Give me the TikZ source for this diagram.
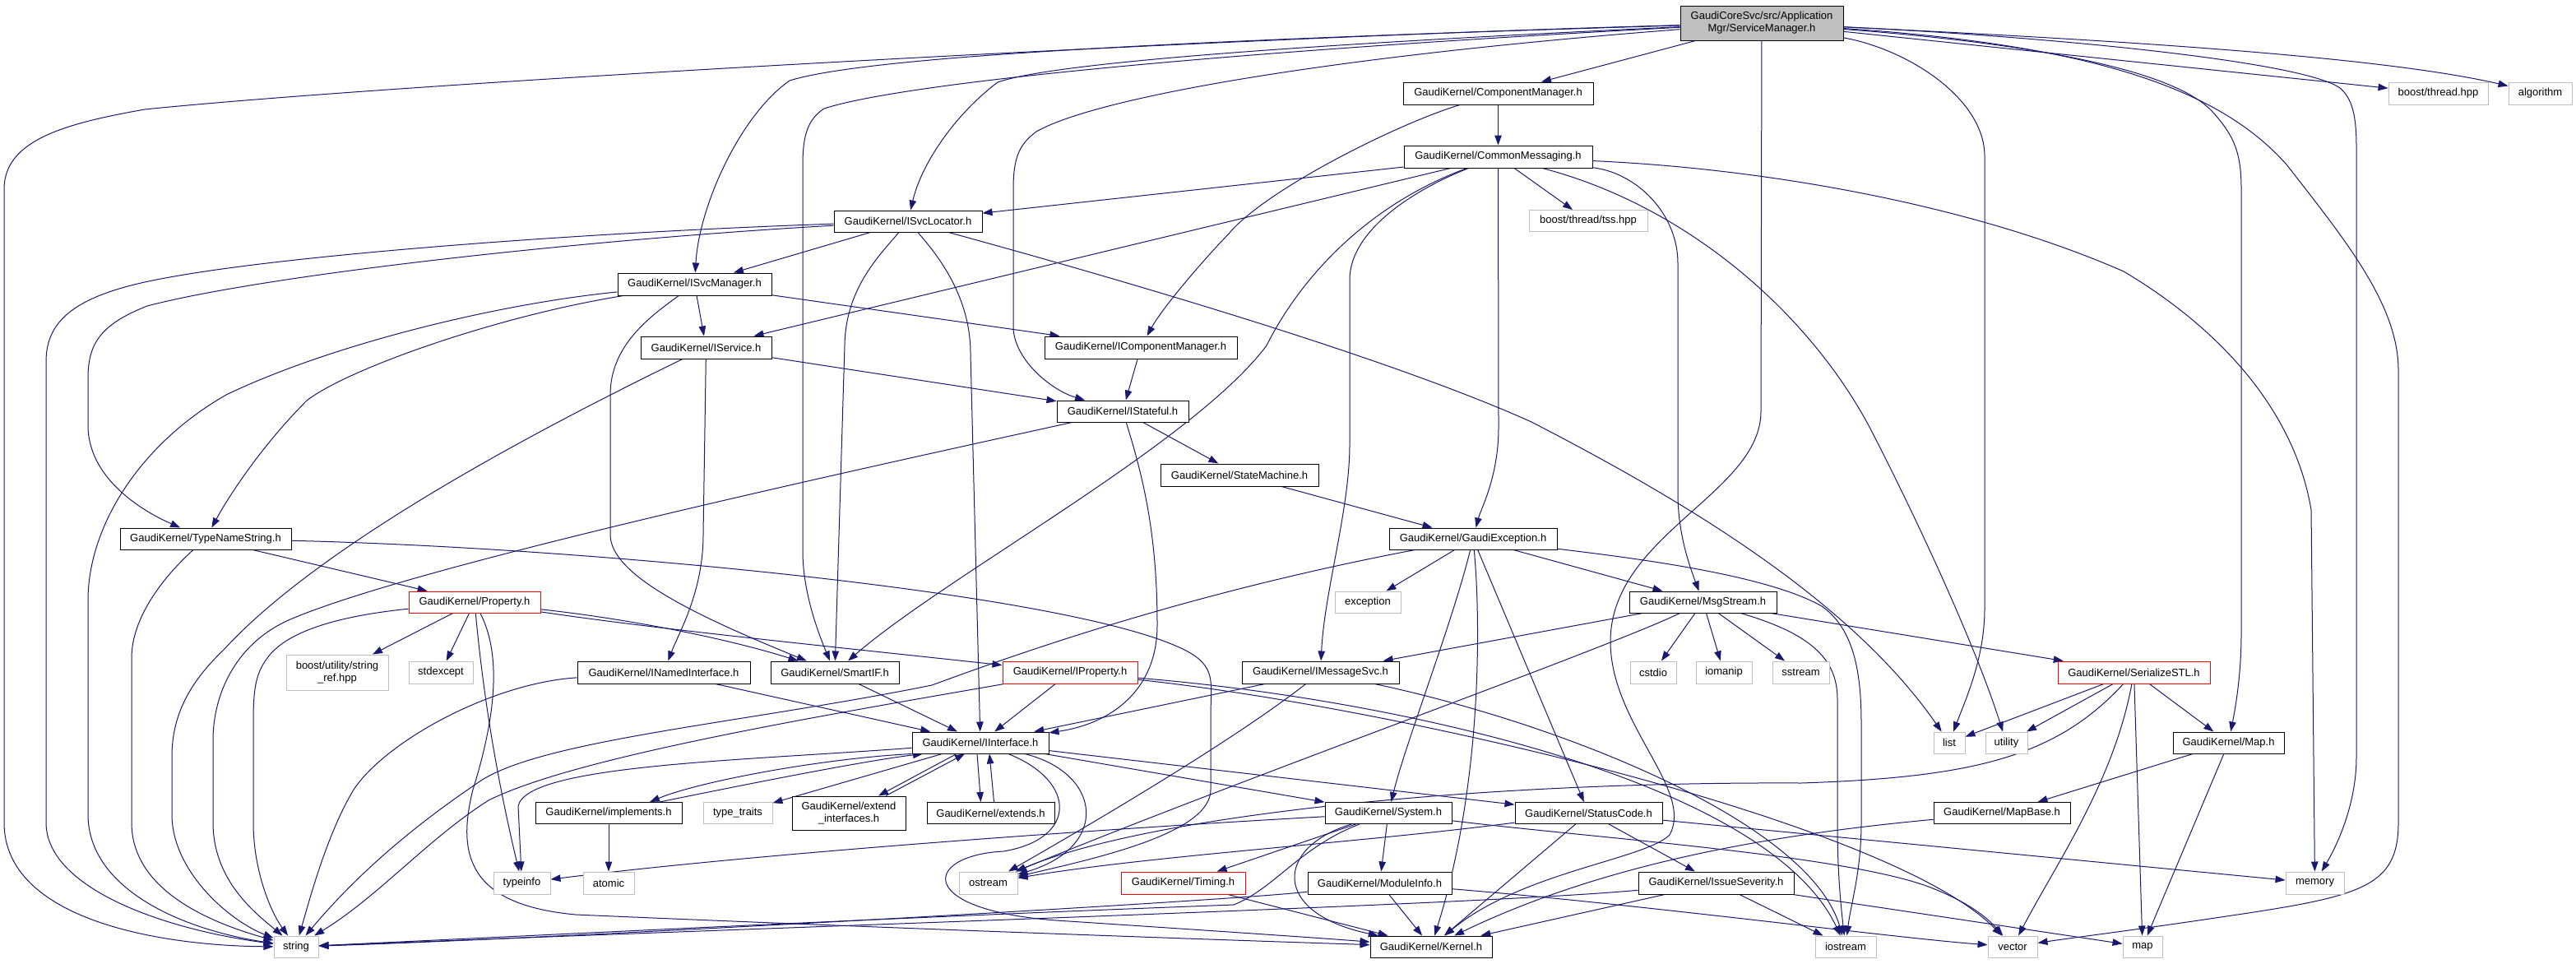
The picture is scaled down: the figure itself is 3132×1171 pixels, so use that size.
\documentclass[tikz,border=0pt]{standalone}
\usepackage{fontspec}
\setmainfont{Liberation Sans}
\usetikzlibrary{arrows.meta,backgrounds}
\definecolor{edgeblue}{RGB}{25,25,112}
\definecolor{boxgrey}{RGB}{191,191,191}
\definecolor{smgrey}{RGB}{191,191,191}
\tikzset{
  box/.style={draw=black, line width=1pt, fill=white, inner sep=0pt, minimum height=26pt,
    align=center, font=\fontsize{13pt}{15pt}\selectfont},
  gbox/.style={box, draw=boxgrey, line width=1pt},
  rbox/.style={box, draw=red},
  lnk/.style={draw=edgeblue, line width=1pt, -{Triangle[length=12pt,width=8.5pt]}},
}
\begin{document}
\begin{tikzpicture}[x=1pt,y=-1pt]
\useasboundingbox (0,0) rectangle (3132,1171);
% ---------- nodes ----------
\node[box,minimum width=198pt,minimum height=42pt,fill=smgrey] (SM) at (2142,28) {GaudiCoreSvc/src/Application\\Mgr/ServiceManager.h};
\node[box,minimum width=231pt,minimum height=27pt] (CompMgr) at (1821.5,113.5) {GaudiKernel/ComponentManager.h};
\node[box,minimum width=229pt,minimum height=27pt] (CommonMsg) at (1821.5,190.5) {GaudiKernel/CommonMessaging.h};
\node[gbox,minimum width=144pt] (tss) at (1931,268.5) {boost/thread/tss.hpp};
\node[gbox,minimum width=121pt,minimum height=27pt] (thread) at (2964.5,113.5) {boost/thread.hpp};
\node[gbox,minimum width=77pt,minimum height=27pt] (algorithm) at (3088.5,113.5) {algorithm};
\node[box,minimum width=180pt] (ISvcLocator) at (1104,269) {GaudiKernel/ISvcLocator.h};
\node[box,minimum width=187pt,minimum height=27pt] (ISvcManager) at (844.5,345.5) {GaudiKernel/ISvcManager.h};
\node[box,minimum width=159pt,minimum height=27pt] (IService) at (858.5,422.5) {GaudiKernel/IService.h};
\node[box,minimum width=234pt,minimum height=27pt] (ICompMgr) at (1387,422.5) {GaudiKernel/IComponentManager.h};
\node[box,minimum width=160pt] (IStateful) at (1365,500) {GaudiKernel/IStateful.h};
\node[box,minimum width=192pt,minimum height=27pt] (StateMachine) at (1507,577.5) {GaudiKernel/StateMachine.h};
\node[box,minimum width=208pt] (TypeNameString) at (250,655) {GaudiKernel/TypeNameString.h};
\node[box,minimum width=204pt] (GaudiException) at (1791,655) {GaudiKernel/GaudiException.h};
\node[rbox,minimum width=160pt] (Property) at (577,732) {GaudiKernel/Property.h};
\node[gbox,minimum width=80pt] (exception) at (1663,732) {exception};
\node[box,minimum width=179pt] (MsgStream) at (2070.5,732) {GaudiKernel/MsgStream.h};
\node[gbox,minimum width=124pt,minimum height=43pt] (stringref) at (410,817.5) {boost/utility/string\\\_ref.hpp};
\node[gbox,minimum width=78pt,minimum height=27pt] (stdexcept) at (536,817.5) {stdexcept};
\node[box,minimum width=210pt,minimum height=27pt] (INamedInterface) at (807,817.5) {GaudiKernel/INamedInterface.h};
\node[box,minimum width=156pt,minimum height=27pt] (SmartIF) at (1015,817.5) {GaudiKernel/SmartIF.h};
\node[rbox,minimum width=164pt,minimum height=27pt] (IProperty) at (1301,817.5) {GaudiKernel/IProperty.h};
\node[box,minimum width=191pt,minimum height=27pt] (IMessageSvc) at (1605.5,817.5) {GaudiKernel/IMessageSvc.h};
\node[gbox,minimum width=56pt,minimum height=27pt] (cstdio) at (2010,817.5) {cstdio};
\node[gbox,minimum width=68pt,minimum height=27pt] (iomanip) at (2096,817.5) {iomanip};
\node[gbox,minimum width=69pt,minimum height=27pt] (sstream) at (2189.5,817.5) {sstream};
\node[rbox,minimum width=185pt,minimum height=27pt] (SerializeSTL) at (2594.5,817.5) {GaudiKernel/SerializeSTL.h};
\node[box,minimum width=166pt] (IInterface) at (1192,903) {GaudiKernel/IInterface.h};
\node[gbox,minimum width=38pt] (list) at (2370,903) {list};
\node[gbox,minimum width=51pt] (utility) at (2439.5,903) {utility};
\node[box,minimum width=135pt] (Map) at (2709.5,903) {GaudiKernel/Map.h};
\node[box,minimum width=178pt] (implements) at (740,988.5) {GaudiKernel/implements.h};
\node[gbox,minimum width=84pt] (typetraits) at (897,988.5) {type\_traits};
\node[box,minimum width=138pt,minimum height=41pt] (extendif) at (1032,988.5) {GaudiKernel/extend\\\_interfaces.h};
\node[box,minimum width=155pt] (extends) at (1204.5,988.5) {GaudiKernel/extends.h};
\node[box,minimum width=154pt] (System) at (1688,988.5) {GaudiKernel/System.h};
\node[box,minimum width=179pt] (StatusCode) at (1931.5,988.5) {GaudiKernel/StatusCode.h};
\node[box,minimum width=166pt] (MapBase) at (2434,988.5) {GaudiKernel/MapBase.h};
\node[gbox,minimum width=69pt,minimum height=27pt] (typeinfo) at (634.5,1073.5) {typeinfo};
\node[gbox,minimum width=62pt,minimum height=27pt] (atomic) at (740,1073.5) {atomic};
\node[gbox,minimum width=71pt,minimum height=27pt] (ostream) at (1201.5,1073.5) {ostream};
\node[rbox,minimum width=151pt,minimum height=27pt] (Timing) at (1438.5,1073.5) {GaudiKernel/Timing.h};
\node[box,minimum width=175pt,minimum height=27pt] (ModuleInfo) at (1677.5,1073.5) {GaudiKernel/ModuleInfo.h};
\node[box,minimum width=189pt,minimum height=27pt] (IssueSeverity) at (2086.5,1073.5) {GaudiKernel/IssueSeverity.h};
\node[gbox,minimum width=71pt,minimum height=27pt] (memory) at (2814.5,1073.5) {memory};
\node[gbox,minimum width=54pt] (string) at (360,1151) {string};
\node[box,minimum width=148pt] (Kernel) at (1740,1151) {GaudiKernel/Kernel.h};
\node[gbox,minimum width=74pt] (iostream) at (2244,1151) {iostream};
\node[gbox,minimum width=60pt] (vector) at (2447,1151) {vector};
\node[gbox,minimum width=48pt] (map) at (2605,1151) {map};
% ---------- edges ----------
\begin{scope}[on background layer]
\fill[white] (0,0) rectangle (3132,1171);
% ServiceManager
\draw[lnk] (SM) .. controls (1500,45) and (500,100) .. (176,133) .. controls (80,150) and (5,170) .. (5,230) -- (5,1000) .. controls (5,1120) and (200,1150) .. (string);
\draw[lnk] (SM) .. controls (1400,50) and (1050,70) .. (960,98) .. controls (900,140) and (850,250) .. (ISvcManager);
\draw[lnk] (SM) .. controls (1500,58) and (1270,80) .. (1213,100) .. controls (1160,140) and (1120,200) .. (ISvcLocator);
\draw[lnk] (SM) .. controls (1500,62) and (1100,100) .. (1002,132) .. controls (982,145) and (976,165) .. (976,200) -- (976,670) .. controls (976,720) and (995,770) .. (SmartIF);
\draw[lnk] (SM) .. controls (1600,70) and (1330,120) .. (1260,160) .. controls (1240,175) and (1232,190) .. (1232,230) -- (1232,400) .. controls (1235,440) and (1280,475) .. (IStateful);
\draw[lnk] (SM) -- (CompMgr);
\draw[lnk] (SM) -- (2141,500) .. controls (2141,600) and (1958,650) .. (1958,780) .. controls (1958,880) and (2060,960) .. (2030,1015) .. controls (2000,1045) and (1850,1060) .. (Kernel);
\draw[lnk] (SM) .. controls (2320,60) and (2413,120) .. (2413,190) -- (2413,740) .. controls (2413,800) and (2390,850) .. (list);
\draw[lnk] (SM) .. controls (2500,55) and (2650,90) .. (2691,137) .. controls (2716,165) and (2725,185) .. (2725,230) -- (2725,770) .. controls (2725,820) and (2718,860) .. (Map);
\draw[lnk] (SM) .. controls (2550,55) and (2700,110) .. (2780,200) .. controls (2850,290) and (2916,370) .. (2916,450) -- (2916,1000) .. controls (2916,1080) and (2870,1090) .. (2700,1115) .. controls (2600,1130) and (2520,1140) .. (vector);
\draw[lnk] (SM) .. controls (2500,45) and (2800,75) .. (2845,107) .. controls (2860,120) and (2865,140) .. (2865,180) -- (2865,920) .. controls (2865,980) and (2840,1030) .. (memory);
\draw[lnk] (SM) -- (thread);
\draw[lnk] (SM) .. controls (2600,50) and (2900,70) .. (algorithm);
% ComponentManager
\draw[lnk] (CompMgr) -- (CommonMsg);
\draw[lnk] (CompMgr) .. controls (1700,150) and (1540,230) .. (1495,283) .. controls (1450,330) and (1410,380) .. (ICompMgr);
% CommonMessaging
\draw[lnk] (CommonMsg) -- (ISvcLocator);
\draw[lnk] (CommonMsg) -- (IService);
\draw[lnk] (CommonMsg) .. controls (1660,250) and (1580,340) .. (1540,420) .. controls (1450,540) and (1150,700) .. (SmartIF);
\draw[lnk] (CommonMsg) -- (tss);
\draw[lnk] (CommonMsg) -- (1822,520) .. controls (1822,580) and (1800,620) .. (GaudiException);
\draw[lnk] (CommonMsg) .. controls (1720,230) and (1641,280) .. (1641,340) -- (1641,540) .. controls (1641,620) and (1610,720) .. (IMessageSvc);
\draw[lnk] (CommonMsg) .. controls (1990,210) and (2040,260) .. (2040,320) -- (2040,600) .. controls (2040,650) and (2055,690) .. (MsgStream);
\draw[lnk] (CommonMsg) .. controls (2050,250) and (2200,380) .. (2275,523) .. controls (2330,630) and (2400,780) .. (utility);
\draw[lnk] (CommonMsg) .. controls (2150,205) and (2400,250) .. (2582,330) .. controls (2700,400) and (2790,500) .. (2810,620) -- (memory);
% ISvcLocator
\draw[lnk] (ISvcLocator) -- (ISvcManager);
\draw[lnk] (ISvcLocator) .. controls (700,283) and (350,310) .. (201,338) .. controls (90,358) and (56,390) .. (56,440) -- (56,1000) .. controls (56,1080) and (200,1130) .. (string);
\draw[lnk] (ISvcLocator) .. controls (700,292) and (320,335) .. (179,372) .. controls (120,395) and (107,420) .. (107,460) -- (107,517) .. controls (107,580) and (170,620) .. (TypeNameString);
\draw[lnk] (ISvcLocator) .. controls (1070,310) and (1028,350) .. (1027,420) -- (SmartIF);
\draw[lnk] (ISvcLocator) .. controls (1140,310) and (1180,360) .. (1180,430) -- (IInterface);
\draw[lnk] (ISvcLocator) .. controls (1400,350) and (1700,440) .. (1862,513) .. controls (2050,610) and (2250,730) .. (list);
% ISvcManager
\draw[lnk] (ISvcManager) -- (IService);
\draw[lnk] (ISvcManager) -- (ICompMgr);
\draw[lnk] (ISvcManager) .. controls (600,385) and (420,450) .. (373,487) .. controls (320,540) and (280,600) .. (TypeNameString);
\draw[lnk] (ISvcManager) .. controls (600,370) and (400,420) .. (275,480) .. controls (170,540) and (107,640) .. (107,730) -- (107,990) .. controls (107,1080) and (220,1130) .. (string);
\draw[lnk] (ISvcManager) .. controls (790,385) and (742,420) .. (742,480) -- (742,650) .. controls (742,700) and (850,750) .. (SmartIF);
% IService
\draw[lnk] (IService) -- (IStateful);
\draw[lnk] (IService) -- (855,650) .. controls (855,720) and (825,770) .. (INamedInterface);
\draw[lnk] (IService) .. controls (700,500) and (400,650) .. (272,790) .. controls (230,830) and (209,870) .. (209,920) -- (209,990) .. controls (209,1060) and (280,1120) .. (string);
% IComponentManager / IStateful / StateMachine
\draw[lnk] (ICompMgr) -- (IStateful);
\draw[lnk] (IStateful) -- (StateMachine);
\draw[lnk] (IStateful) .. controls (1390,580) and (1407,650) .. (1407,760) .. controls (1407,840) and (1350,880) .. (IInterface);
\draw[lnk] (IStateful) .. controls (1000,580) and (500,690) .. (353,753) .. controls (290,780) and (259,840) .. (259,900) -- (259,1000) .. controls (259,1070) and (310,1110) .. (string);
\draw[lnk] (StateMachine) -- (GaudiException);
% TypeNameString
\draw[lnk] (TypeNameString) -- (Property);
\draw[lnk] (TypeNameString) .. controls (200,700) and (160,750) .. (160,800) -- (160,1000) .. controls (160,1080) and (250,1120) .. (string);
\draw[lnk] (TypeNameString) .. controls (700,665) and (1300,720) .. (1440,790) .. controls (1480,810) and (1472,830) .. (1472,870) -- (1472,960) .. controls (1472,1010) and (1350,1040) .. (ostream);
% Property
\draw[lnk] (Property) -- (stringref);
\draw[lnk] (Property) -- (stdexcept);
\draw[lnk] (Property) .. controls (420,748) and (350,765) .. (325,800) .. controls (310,820) and (308,840) .. (308,880) -- (308,1000) .. controls (308,1060) and (330,1110) .. (string);
\draw[lnk] (Property) .. controls (588,850) and (605,950) .. (typeinfo);
\draw[lnk] (Property) .. controls (612,800) and (600,880) .. (575,960) .. controls (555,1040) and (570,1100) .. (700,1112) .. controls (1000,1125) and (1400,1140) .. (Kernel);
\draw[lnk] (Property) .. controls (760,752) and (880,775) .. (SmartIF);
\draw[lnk] (Property) .. controls (800,765) and (1000,785) .. (IProperty);
% INamedInterface, SmartIF, IProperty, IMessageSvc
\draw[lnk] (INamedInterface) -- (IInterface);
\draw[lnk] (INamedInterface) .. controls (600,830) and (470,900) .. (430,960) .. controls (400,1010) and (380,1080) .. (string);
\draw[lnk] (SmartIF) -- (IInterface);
\draw[lnk] (IProperty) -- (IInterface);
\draw[lnk] (IProperty) .. controls (1000,870) and (700,920) .. (594,973) .. controls (520,1020) and (460,1090) .. (string);
\draw[lnk] (IProperty) .. controls (1700,860) and (2300,1000) .. (vector);
\draw[lnk] (IProperty) .. controls (1700,850) and (2150,950) .. (iostream);
\draw[lnk] (IMessageSvc) -- (IInterface);
\draw[lnk] (IMessageSvc) .. controls (1500,900) and (1330,1000) .. (ostream);
\draw[lnk] (IMessageSvc) .. controls (1900,880) and (2200,1000) .. (iostream);
% GaudiException
\draw[lnk] (GaudiException) -- (exception);
\draw[lnk] (GaudiException) -- (MsgStream);
\draw[lnk] (GaudiException) .. controls (1765,760) and (1710,900) .. (System);
\draw[lnk] (GaudiException) -- (StatusCode);
\draw[lnk] (GaudiException) .. controls (1800,750) and (1803,950) .. (Kernel);
\draw[lnk] (GaudiException) .. controls (2000,680) and (2150,700) .. (2215,737) .. controls (2255,765) and (2263,820) .. (2263,880) -- (2263,1000) .. controls (2263,1060) and (2250,1100) .. (iostream);
\draw[lnk] (GaudiException) .. controls (1450,720) and (1250,790) .. (1133,833) .. controls (900,880) and (650,900) .. (579,953) .. controls (480,1020) and (420,1080) .. (string);
% MsgStream
\draw[lnk] (MsgStream) -- (IMessageSvc);
\draw[lnk] (MsgStream) -- (SerializeSTL);
\draw[lnk] (MsgStream) -- (cstdio);
\draw[lnk] (MsgStream) -- (iomanip);
\draw[lnk] (MsgStream) -- (sstream);
\draw[lnk] (MsgStream) .. controls (1950,790) and (1500,950) .. (ostream);
\draw[lnk] (MsgStream) .. controls (2200,770) and (2234,800) .. (2234,850) -- (2234,1000) .. controls (2234,1060) and (2238,1100) .. (iostream);
% IInterface
\draw[lnk] (IInterface.south west) .. controls (1000,922) and (850,950) .. ([xshift=50pt]implements.north);
\draw[lnk] ([xshift=62pt]implements.north) .. controls (900,955) and (1050,925) .. ([xshift=-70pt]IInterface.south);
\draw[lnk] (IInterface) -- (typetraits);
\draw[lnk] ([xshift=-29pt]IInterface.south) -- ([xshift=36pt]extendif.north);
\draw[lnk] ([xshift=45pt]extendif.north) -- ([xshift=-19pt]IInterface.south);
\draw[lnk] ([xshift=-4pt]IInterface.south) -- ([xshift=-12pt]extends.north);
\draw[lnk] ([xshift=4pt]extends.north) -- ([xshift=11pt]IInterface.south);
\draw[lnk] (IInterface) .. controls (900,925) and (640,930) .. (630,980) -- (typeinfo);
\draw[lnk] (IInterface) .. controls (1340,940) and (1350,1030) .. (ostream);
\draw[lnk] (IInterface) .. controls (1310,950) and (1310,1020) .. (1220,1035) .. controls (1120,1040) and (1110,1110) .. (1300,1120) .. controls (1450,1130) and (1600,1140) .. (Kernel);
\draw[lnk] (IInterface) -- (System);
\draw[lnk] (IInterface) -- (StatusCode);
\draw[lnk] (implements) -- (atomic);
% System
\draw[lnk] (System) -- (Timing);
\draw[lnk] (System) -- (ModuleInfo);
\draw[lnk] (System) .. controls (1550,1030) and (1545,1110) .. (Kernel);
\draw[lnk] (System) .. controls (1300,1010) and (900,1040) .. (typeinfo);
\draw[lnk] (System) .. controls (1580,1030) and (1550,1080) .. (1500,1100) .. controls (1100,1115) and (700,1135) .. (string);
\draw[lnk] (System) .. controls (1950,1020) and (2250,1040) .. (2350,1080) .. controls (2400,1100) and (2420,1120) .. (vector);
% ModuleInfo, Timing
\draw[lnk] (ModuleInfo) -- (Kernel);
\draw[lnk] (ModuleInfo) .. controls (1500,1095) and (700,1140) .. (string);
\draw[lnk] (ModuleInfo) .. controls (2000,1100) and (2300,1140) .. (vector);
\draw[lnk] (Timing) -- (Kernel);
% StatusCode
\draw[lnk] (StatusCode) -- (IssueSeverity);
\draw[lnk] (StatusCode) -- (Kernel);
\draw[lnk] (StatusCode) .. controls (1650,1025) and (1400,1040) .. (ostream);
\draw[lnk] (StatusCode) -- (memory);
% IssueSeverity
\draw[lnk] (IssueSeverity) -- (Kernel);
\draw[lnk] (IssueSeverity) .. controls (1800,1100) and (1000,1125) .. (string);
\draw[lnk] (IssueSeverity) -- (iostream);
\draw[lnk] (IssueSeverity) -- (map);
% SerializeSTL, Map, MapBase
\draw[lnk] (SerializeSTL) -- (list);
\draw[lnk] (SerializeSTL) -- (utility);
\draw[lnk] (SerializeSTL) -- (Map);
\draw[lnk] (SerializeSTL) -- (map);
\draw[lnk] (SerializeSTL) .. controls (2570,950) and (2500,1050) .. (vector);
\draw[lnk] (SerializeSTL) .. controls (2500,920) and (2400,945) .. (2190,952) .. controls (1800,950) and (1400,990) .. (ostream);
\draw[lnk] (Map) -- (MapBase);
\draw[lnk] (Map) -- (map);
\draw[lnk] (MapBase) .. controls (2150,1015) and (1950,1050) .. (Kernel);
\end{scope}
\end{tikzpicture}
\end{document}
